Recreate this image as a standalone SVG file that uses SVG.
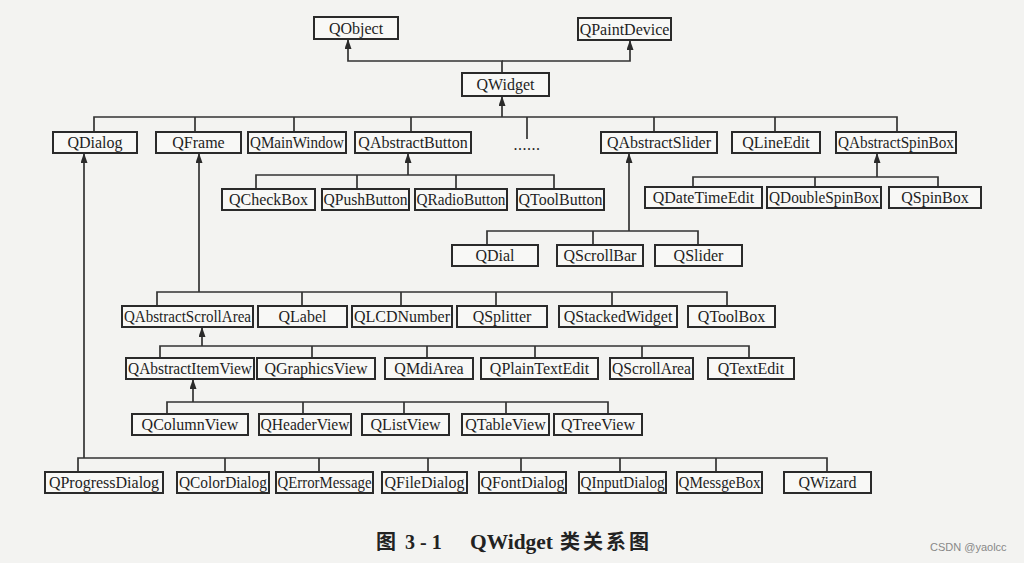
<svg xmlns="http://www.w3.org/2000/svg" width="1024" height="563" viewBox="0 0 1024 563">
<style>
.bg{fill:#f3f3f1}
.n rect{fill:#f8f8f6;stroke:#2a2a2a;stroke-width:2}
.n text{font-family:"Liberation Serif","Times New Roman",serif;font-size:16px;fill:#1e1e1e;text-anchor:middle}
.c path{fill:none;stroke:#333;stroke-width:1.7}
.cap{font-family:"Liberation Serif","Noto Sans CJK SC",serif;font-size:20px;font-weight:bold;fill:#222}
.wm{font-family:"Liberation Sans",Arial,sans-serif;font-size:11px;fill:#888}
</style>
<defs>
<marker id="ah" viewBox="0 0 10 7" refX="10" refY="3.5" markerWidth="11" markerHeight="7" markerUnits="userSpaceOnUse" orient="auto">
<path d="M0,0 L10,3.5 L0,7 z" fill="#2a2a2a"/>
</marker>
</defs>
<rect class="bg" x="0" y="0" width="1024" height="563"/>

<g class="c" id="connectors">
<path d="M502,73 V61 H348 V39" marker-end="url(#ah)"/>
<path d="M502,61 H630 V40" marker-end="url(#ah)"/>
<path d="M502,117 V96" marker-end="url(#ah)"/>
<path d="M94,132 V117 H897 V132"/>
<path d="M195,117 V132 M294,117 V132 M411,117 V132 M527,117 V139 M654,117 V132 M775,117 V132"/>
<path d="M408,175 V153" marker-end="url(#ah)"/>
<path d="M256,189 V175 H554 V189 M357,175 V189 M456,175 V189"/>
<path d="M877,177 V153" marker-end="url(#ah)"/>
<path d="M693,187 V177 H938 V187 M815,177 V187"/>
<path d="M629,231 V153" marker-end="url(#ah)"/>
<path d="M487,245 V231 H698 V245 M593,231 V245"/>
<path d="M199,292 V153" marker-end="url(#ah)"/>
<path d="M157,306 V292 H727 V306 M302,292 V306 M401,292 V306 M496,292 V306 M612,292 V306"/>
<path d="M202,346 V327" marker-end="url(#ah)"/>
<path d="M160,358 V346 H749 V358 M312,346 V358 M427,346 V358 M535,346 V358 M642,346 V358"/>
<path d="M193,402 V379" marker-end="url(#ah)"/>
<path d="M167,414 V402 H608 V414 M303,402 V414 M404,402 V414 M506,402 V414"/>
<path d="M84,458 V153" marker-end="url(#ah)"/>
<path d="M78,472 V458 H827 V472 M225,458 V472 M319,458 V472 M428,458 V472 M521,458 V472 M620,458 V472 M716,458 V472"/>
</g>

<g class="n" id="QObject"><rect x="314" y="17" width="84" height="22"/><text x="356" y="33.5">QObject</text></g>
<g class="n" id="QPaintDevice"><rect x="578" y="18" width="93" height="22"/><text x="624.5" y="34.5">QPaintDevice</text></g>
<g class="n" id="QWidget"><rect x="462" y="73" width="87" height="23"/><text x="505.5" y="90">QWidget</text></g>

<g class="n" id="QDialog"><rect x="53" y="132" width="84" height="21"/><text x="95" y="148">QDialog</text></g>
<g class="n" id="QFrame"><rect x="156" y="132" width="85" height="21"/><text x="198.5" y="148">QFrame</text></g>
<g class="n" id="QMainWindow"><rect x="248" y="132" width="98" height="21"/><text x="297" y="148" textLength="94" lengthAdjust="spacingAndGlyphs">QMainWindow</text></g>
<g class="n" id="QAbstractButton"><rect x="355" y="132" width="116" height="21"/><text x="413" y="148">QAbstractButton</text></g>
<g class="n" id="more"><text x="527" y="150" style="letter-spacing:0.5px">......</text></g>
<g class="n" id="QAbstractSlider"><rect x="601" y="132" width="116" height="21"/><text x="659" y="148">QAbstractSlider</text></g>
<g class="n" id="QLineEdit"><rect x="732" y="132" width="88" height="21"/><text x="776" y="148">QLineEdit</text></g>
<g class="n" id="QAbstractSpinBox"><rect x="836" y="132" width="120" height="21"/><text x="896" y="148" textLength="116" lengthAdjust="spacingAndGlyphs">QAbstractSpinBox</text></g>

<g class="n" id="QCheckBox"><rect x="222" y="189" width="93" height="21"/><text x="268.5" y="205">QCheckBox</text></g>
<g class="n" id="QPushButton"><rect x="322" y="189" width="87" height="21"/><text x="365.5" y="205" textLength="84" lengthAdjust="spacingAndGlyphs">QPushButton</text></g>
<g class="n" id="QRadioButton"><rect x="415" y="189" width="92" height="21"/><text x="461" y="205" textLength="89" lengthAdjust="spacingAndGlyphs">QRadioButton</text></g>
<g class="n" id="QToolButton"><rect x="517" y="189" width="87" height="21"/><text x="560.5" y="205" textLength="84" lengthAdjust="spacingAndGlyphs">QToolButton</text></g>

<g class="n" id="QDateTimeEdit"><rect x="645" y="187" width="117" height="21"/><text x="703.5" y="203">QDateTimeEdit</text></g>
<g class="n" id="QDoubleSpinBox"><rect x="767" y="187" width="114" height="21"/><text x="824" y="203" textLength="110" lengthAdjust="spacingAndGlyphs">QDoubleSpinBox</text></g>
<g class="n" id="QSpinBox"><rect x="889" y="187" width="92" height="21"/><text x="935" y="203">QSpinBox</text></g>

<g class="n" id="QDial"><rect x="452" y="245" width="86" height="21"/><text x="495" y="261">QDial</text></g>
<g class="n" id="QScrollBar"><rect x="557" y="245" width="86" height="21"/><text x="600" y="261">QScrollBar</text></g>
<g class="n" id="QSlider"><rect x="655" y="245" width="87" height="21"/><text x="698.5" y="261">QSlider</text></g>

<g class="n" id="QAbstractScrollArea"><rect x="122" y="306" width="131" height="21"/><text x="187.5" y="322" textLength="127" lengthAdjust="spacingAndGlyphs">QAbstractScrollArea</text></g>
<g class="n" id="QLabel"><rect x="258" y="306" width="89" height="21"/><text x="302.5" y="322">QLabel</text></g>
<g class="n" id="QLCDNumber"><rect x="352" y="306" width="100" height="21"/><text x="402" y="322">QLCDNumber</text></g>
<g class="n" id="QSplitter"><rect x="457" y="306" width="90" height="21"/><text x="502" y="322">QSplitter</text></g>
<g class="n" id="QStackedWidget"><rect x="559" y="306" width="118" height="21"/><text x="618" y="322">QStackedWidget</text></g>
<g class="n" id="QToolBox"><rect x="688" y="306" width="87" height="21"/><text x="731.5" y="322">QToolBox</text></g>

<g class="n" id="QAbstractItemView"><rect x="126" y="358" width="128" height="21"/><text x="190" y="374" textLength="124" lengthAdjust="spacingAndGlyphs">QAbstractItemView</text></g>
<g class="n" id="QGraphicsView"><rect x="257" y="358" width="118" height="21"/><text x="316" y="374">QGraphicsView</text></g>
<g class="n" id="QMdiArea"><rect x="385" y="358" width="88" height="21"/><text x="429" y="374">QMdiArea</text></g>
<g class="n" id="QPlainTextEdit"><rect x="481" y="358" width="117" height="21"/><text x="539.5" y="374">QPlainTextEdit</text></g>
<g class="n" id="QScrollArea"><rect x="610" y="358" width="83" height="21"/><text x="651.5" y="374" textLength="79" lengthAdjust="spacingAndGlyphs">QScrollArea</text></g>
<g class="n" id="QTextEdit"><rect x="708" y="358" width="86" height="21"/><text x="751" y="374">QTextEdit</text></g>

<g class="n" id="QColumnView"><rect x="132" y="414" width="116" height="21"/><text x="190" y="430">QColumnView</text></g>
<g class="n" id="QHeaderView"><rect x="259" y="414" width="92" height="21"/><text x="305" y="430" textLength="89" lengthAdjust="spacingAndGlyphs">QHeaderView</text></g>
<g class="n" id="QListView"><rect x="362" y="414" width="87" height="21"/><text x="405.5" y="430">QListView</text></g>
<g class="n" id="QTableView"><rect x="462" y="414" width="87" height="21"/><text x="505.5" y="430">QTableView</text></g>
<g class="n" id="QTreeView"><rect x="554" y="414" width="88" height="21"/><text x="598" y="430">QTreeView</text></g>

<g class="n" id="QProgressDialog"><rect x="45" y="472" width="118" height="21"/><text x="104" y="488">QProgressDialog</text></g>
<g class="n" id="QColorDialog"><rect x="177" y="472" width="92" height="21"/><text x="223" y="488" textLength="88" lengthAdjust="spacingAndGlyphs">QColorDialog</text></g>
<g class="n" id="QErrorMessage"><rect x="276" y="472" width="97" height="21"/><text x="324.5" y="488" textLength="94" lengthAdjust="spacingAndGlyphs">QErrorMessage</text></g>
<g class="n" id="QFileDialog"><rect x="382" y="472" width="85" height="21"/><text x="424.5" y="488">QFileDialog</text></g>
<g class="n" id="QFontDialog"><rect x="479" y="472" width="87" height="21"/><text x="522.5" y="488" textLength="84" lengthAdjust="spacingAndGlyphs">QFontDialog</text></g>
<g class="n" id="QInputDialog"><rect x="579" y="472" width="87" height="21"/><text x="622.5" y="488" textLength="84" lengthAdjust="spacingAndGlyphs">QInputDialog</text></g>
<g class="n" id="QMessgeBox"><rect x="677" y="472" width="85" height="21"/><text x="719.5" y="488" textLength="82" lengthAdjust="spacingAndGlyphs">QMessgeBox</text></g>
<g class="n" id="QWizard"><rect x="784" y="472" width="87" height="21"/><text x="827.5" y="488">QWizard</text></g>

<text class="cap" y="549"><tspan x="376">图</tspan><tspan x="405">3 - 1</tspan><tspan x="470" textLength="83" lengthAdjust="spacingAndGlyphs">QWidget</tspan><tspan x="560" style="letter-spacing:3px">类关系图</tspan></text>
<text class="wm" x="930" y="551">CSDN @yaolcc</text>
</svg>
